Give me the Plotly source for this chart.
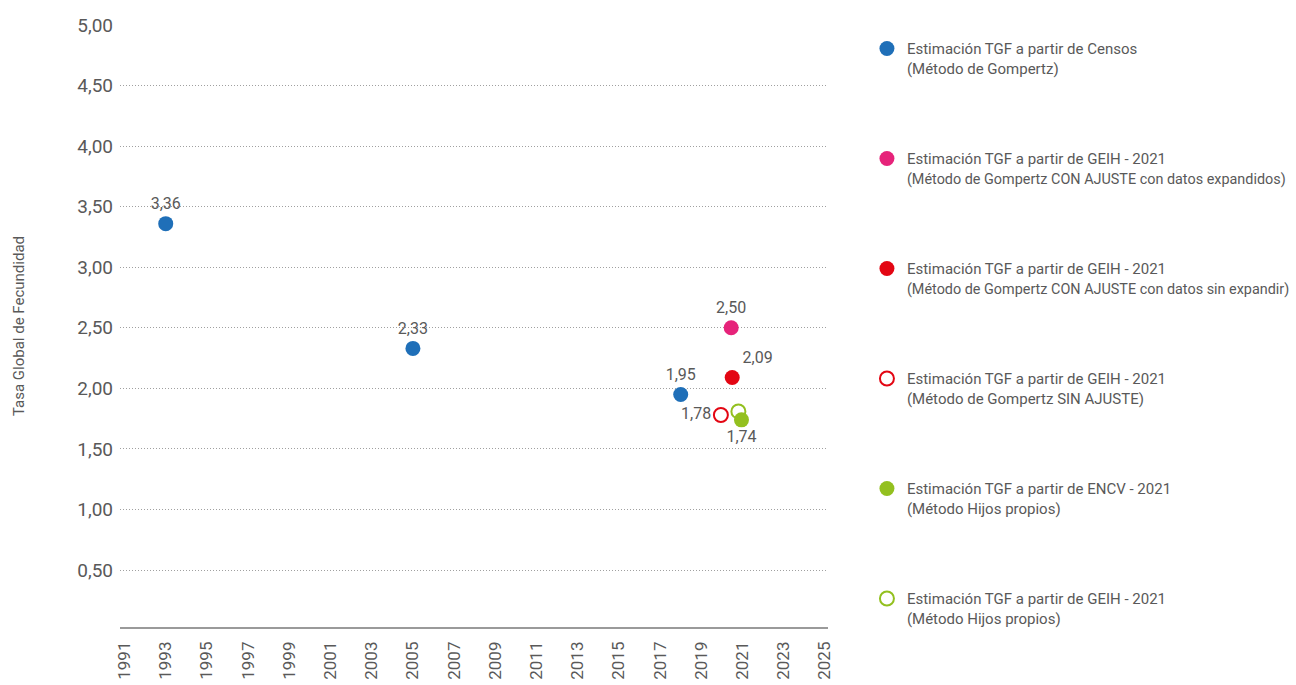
import plotly.graph_objects as go

FONT = "Roboto, sans-serif"
GRAY = "#595959"

# data
series_names = [
    "Estimación TGF a partir de Censos<br>(Método de Gompertz)",
    "Estimación TGF a partir de GEIH - 2021<br><span style=\"font-size:14.4px\">(Método de Gompertz CON AJUSTE con datos expandidos)</span>",
    "Estimación TGF a partir de GEIH - 2021<br><span style=\"font-size:14.4px\">(Método de Gompertz CON AJUSTE con datos sin expandir)</span>",
    "Estimación TGF a partir de GEIH - 2021<br>(Método de Gompertz SIN AJUSTE)",
    "Estimación TGF a partir de ENCV - 2021<br>(Método Hijos propios)",
    "Estimación TGF a partir de GEIH - 2021<br>(Método Hijos propios)",
]
censos_years = [1993, 2005, 2018]
censos_tgf = [3.36, 2.33, 1.95]
geih_exp_year = [2020.45]
geih_exp_tgf = [2.50]
geih_sinexp_year = [2020.5]
geih_sinexp_tgf = [2.09]
geih_sinajuste_year = [2019.95]
geih_sinajuste_tgf = [1.78]
encv_year = [2020.95]
encv_tgf = [1.74]
geih_hijos_year = [2020.8]
geih_hijos_tgf = [1.81]

x_ticks = list(range(1991, 2026, 2))
y_ticks = [0.5, 1.0, 1.5, 2.0, 2.5, 3.0, 3.5, 4.0, 4.5, 5.0]

def lab(vals):
    return [f"{v:.2f}".replace(".", ",") for v in vals]

specs = [
    (censos_years, censos_tgf, "circle", "#1f6fb8", lab(censos_tgf), "top center"),
    (geih_exp_year, geih_exp_tgf, "circle", "#e6237a", lab(geih_exp_tgf), "top center"),
    (geih_sinexp_year, geih_sinexp_tgf, "circle", "#e30613", lab(geih_sinexp_tgf), "top right"),
    (geih_sinajuste_year, geih_sinajuste_tgf, "circle-open", "#e30613", lab(geih_sinajuste_tgf), "middle left"),
    (encv_year, encv_tgf, "circle", "#93c01f", lab(encv_tgf), "bottom center"),
    (geih_hijos_year, geih_hijos_tgf, "circle-open", "#93c01f", [""], "top center"),
]

fig = go.Figure()
for i, (xs, ys, sym, col, txt, pos) in enumerate(specs):
    is_open = sym.endswith("open")
    fig.add_trace(go.Scatter(
        x=xs, y=ys, mode="markers+text", name=series_names[i],
        legendgroup=f"g{i}",
        marker=dict(symbol=sym, size=15 if not is_open else 14, color=col,
                    line=dict(width=2, color=col) if is_open else dict(width=0)),
        text=txt, textposition=pos,
        textfont=dict(family=FONT, size=16, color=GRAY),
        cliponaxis=False,
    ))

fig.update_layout(
    width=1296, height=685,
    paper_bgcolor="white", plot_bgcolor="white",
    margin=dict(l=120, r=468, t=25, b=58, autoexpand=False),
    font=dict(family=FONT, color=GRAY),
    showlegend=True,
    legend=dict(
        x=1.055, y=0.988, xanchor="left", yanchor="top",
        valign="top", tracegroupgap=68,
        font=dict(family=FONT, size=15, color=GRAY),
        itemwidth=30,
    ),
    xaxis=dict(
        range=[1990.78, 2025.15], tickvals=x_ticks, ticktext=[str(t) for t in x_ticks],
        tickangle=-90, tickfont=dict(family=FONT, size=17, color=GRAY),
        showgrid=False, zeroline=False, showline=True, linecolor="#9a9a9a", linewidth=1.5,
        ticks="", automargin=False, ticklabelstandoff=6,
    ),
    yaxis=dict(
        range=[0.03, 5.0], tickvals=y_ticks,
        ticktext=[f"{v:.2f}".replace(".", ",") for v in y_ticks],
        tickfont=dict(family=FONT, size=19, color=GRAY),
        showgrid=True, gridcolor="#a0a0a0", griddash="1px,2px", gridwidth=1,
        zeroline=False, showline=False, ticks="", automargin=False, ticklabelstandoff=6,
        title=dict(text="Tasa Global de Fecundidad", font=dict(family=FONT, size=15, color=GRAY),
                   standoff=48),
    ),
)

fig.write_html("out.html", config={"displayModeBar": False},
               post_script="document.body.style.margin='0';")
